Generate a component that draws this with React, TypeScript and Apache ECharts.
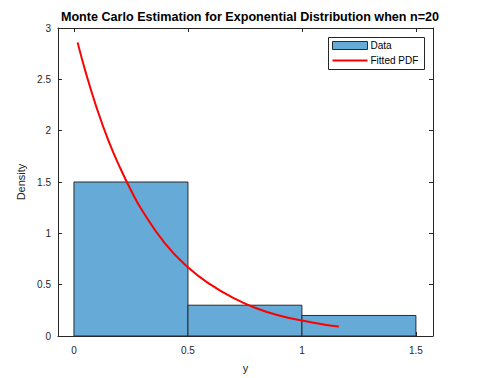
import React, { useEffect, useRef } from "react";
import * as echarts from "echarts";

const binEdges = [0, 0.5, 1, 1.5];
const density = [1.5, 0.3, 0.2];
const pdfX = [0.016, 0.05, 0.1, 0.15, 0.2, 0.25, 0.3, 0.4, 0.5, 0.6, 0.7, 0.8, 0.9, 1.0, 1.1, 1.162];
const pdfY = [2.86, 2.58, 2.22, 1.91, 1.65, 1.42, 1.22, 0.9, 0.67, 0.5, 0.37, 0.27, 0.2, 0.15, 0.11, 0.092];
const xTicks = [0, 0.5, 1, 1.5];
const title = "Monte Carlo Estimation for Exponential Distribution when n=20";

const FONT = "Liberation Sans, Arial, sans-serif";
const AX = "#262626";

export default function App() {
  const ref = useRef<HTMLDivElement>(null);
  useEffect(() => {
    const chart = echarts.init(ref.current!, null, { renderer: "svg" });
    const bins = density.map((d, i) => [binEdges[i], binEdges[i + 1], d]);
    const axisCommon = {
      axisLine: { show: true, onZero: false, lineStyle: { color: AX, width: 1 } },
      splitLine: { show: false },
    };
    chart.setOption({
      animation: false,
      backgroundColor: "#fff",
      title: {
        text: title,
        left: 245,
        top: 5,
        textAlign: "center",
        textStyle: { fontFamily: FONT, fontSize: 12.6, fontWeight: "bold", color: "#000" },
      },
      grid: { left: 58, right: 47, top: 28, bottom: 42 },
      xAxis: [
        {
          type: "value",
          min: -0.07,
          max: 1.575,
          ...axisCommon,
          name: "y",
          nameLocation: "middle",
          nameGap: 26,
          nameTextStyle: { fontFamily: FONT, fontSize: 11, color: AX },
          axisTick: { show: true, inside: true, length: 4, customValues: xTicks, lineStyle: { color: AX } },
          axisLabel: { customValues: xTicks, fontFamily: FONT, fontSize: 10, color: AX, margin: 9 },
        },
        {
          type: "value",
          position: "top",
          min: -0.07,
          max: 1.575,
          ...axisCommon,
          axisTick: { show: true, inside: true, length: 4, customValues: xTicks, lineStyle: { color: AX } },
          axisLabel: { show: false },
        },
      ],
      yAxis: [
        {
          type: "value",
          min: 0,
          max: 3,
          interval: 0.5,
          ...axisCommon,
          name: "Density",
          nameLocation: "middle",
          nameGap: 21,
          nameTextStyle: { fontFamily: FONT, fontSize: 11, color: AX },
          axisTick: { show: true, inside: true, length: 4, lineStyle: { color: AX } },
          axisLabel: { fontFamily: FONT, fontSize: 10, color: AX, margin: 7 },
        },
        {
          type: "value",
          position: "right",
          min: 0,
          max: 3,
          interval: 0.5,
          ...axisCommon,
          axisTick: { show: true, inside: true, length: 4, lineStyle: { color: AX } },
          axisLabel: { show: false },
        },
      ],
      series: [
        {
          type: "custom",
          xAxisIndex: 0,
          yAxisIndex: 0,
          data: bins,
          renderItem: (params: any, api: any) => {
            const p0 = api.coord([api.value(0), api.value(2)]);
            const p1 = api.coord([api.value(1), 0]);
            return {
              type: "rect",
              shape: { x: p0[0], y: p0[1], width: p1[0] - p0[0], height: p1[1] - p0[1] },
              style: { fill: "#66AAD7", stroke: "#2b2b2b", lineWidth: 1 },
            };
          },
          z: 2,
        },
        {
          type: "line",
          xAxisIndex: 0,
          yAxisIndex: 0,
          data: pdfX.map((x, i) => [x, pdfY[i]]),
          smooth: true,
          showSymbol: false,
          lineStyle: { color: "#FF0000", width: 2 },
          z: 3,
        },
      ],
      graphic: [
        {
          type: "group",
          left: 328,
          top: 37,
          children: [
            { type: "rect", shape: { x: 0, y: 0, width: 96, height: 32 }, style: { fill: "#fff", stroke: "#262626", lineWidth: 1 } },
            { type: "rect", shape: { x: 4, y: 4, width: 35, height: 8 }, style: { fill: "#66AAD7", stroke: "#2b2b2b", lineWidth: 1 } },
            { type: "text", x: 42, y: 8, style: { text: "Data", fontFamily: FONT, fontSize: 10, fill: "#000", verticalAlign: "middle" } },
            { type: "line", shape: { x1: 4, y1: 23, x2: 39, y2: 23 }, style: { stroke: "#FF0000", lineWidth: 2 } },
            { type: "text", x: 42, y: 23, style: { text: "Fitted PDF", fontFamily: FONT, fontSize: 10, fill: "#000", verticalAlign: "middle" } },
          ],
        },
      ],
    });
    return () => chart.dispose();
  }, []);
  return <div ref={ref} style={{ width: 480, height: 378, position: "absolute", left: 0, top: 0 }} />;
}
